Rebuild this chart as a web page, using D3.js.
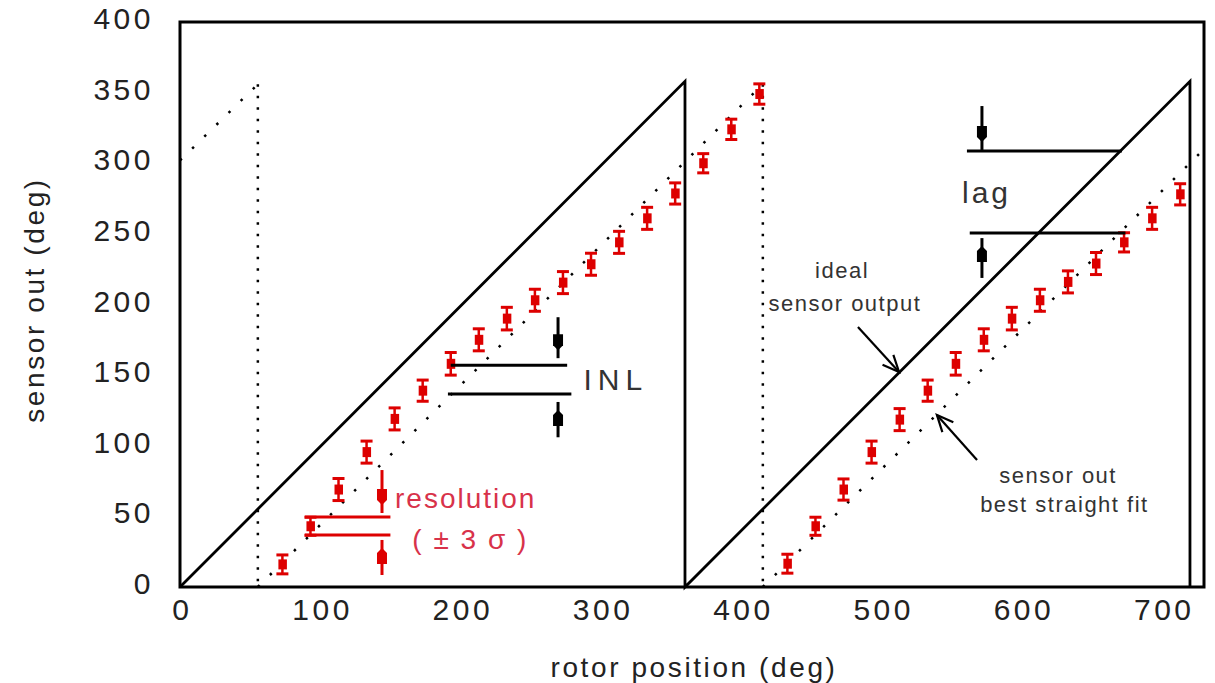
<!DOCTYPE html>
<html lang="en">
<head>
	<title>Sensor out vs rotor position</title>
	<meta charset="utf-8">
	<script src="https://d3js.org/d3.v7.min.js"></script>
	<style type="text/css">
		body {
			margin: 0;
			background: #fff;
			font-family: "Liberation Sans", Arial, sans-serif;
		}

		svg {
			display: block;
		}

		/* Axes */
		.tick text {
			font-family: "Liberation Sans", Arial, sans-serif;
			font-size: 30px;
			letter-spacing: 3.5px;
			fill: #222;
		}

		.tick line,
		path.domain {
			display: none;
		}

		.axis-title {
			font-size: 28px;
			letter-spacing: 2.6px;
			fill: #222;
		}

		/* Chart */
		.frame {
			fill: none;
			stroke: #000;
			stroke-width: 3;
		}

		.ideal {
			fill: none;
			stroke: #000;
			stroke-width: 2.8;
		}

		.fit {
			fill: none;
			stroke: #000;
			stroke-width: 2.5;
		}

		.err line {
			stroke: #dd0000;
		}

		.err rect {
			fill: #dd0000;
		}

		.note {
			font-size: 22px;
			letter-spacing: 1.5px;
			fill: #333;
		}

		.big {
			font-size: 30px;
			letter-spacing: 3px;
			fill: #333;
		}

		.wide {
			letter-spacing: 6px;
		}

		.red-text {
			font-size: 28px;
			letter-spacing: 2px;
			fill: #d8324a;
		}
	</style>
</head>

<body>
	<div id="vis"></div>

	<script type="text/javascript">

		/* Data */
		/* ==== */

		// measured sensor output (deg) against rotor position (deg)
		var rotorPos = [73, 93, 113, 133, 153, 173, 193, 213, 233, 253, 273, 293, 313, 333, 353, 373, 393, 413,
			433, 453, 473, 493, 513, 533, 553, 573, 593, 613, 633, 653, 673, 693, 713];
		var sensorOut = [16, 43, 69, 95.5, 119, 139, 158, 175, 190, 203, 215.5, 228.5, 244, 261, 278.6, 300, 324, 349,
			16.5, 43, 69, 95.5, 118.5, 139, 158, 175, 190, 203, 216, 229, 244, 261, 278];
		// +/- 3 sigma
		var sensorErr = [6.7, 6.4, 7.8, 7.8, 7.8, 7.5, 8, 7.8, 8, 7.8, 7.8, 7.8, 7.8, 7.8, 7.5, 6.8, 7.2, 7.2,
			6.7, 6.4, 7.5, 7.8, 7.8, 7.5, 8, 7.8, 8, 7.8, 7.8, 7.8, 6.8, 7.8, 7.5];

		// ideal sensor output (sawtooth)
		var idealRotor = [0, 360, 360, 720, 720];
		var idealOut = [0, 358, 0, 358, 0];

		// best straight fit, one list per sloped piece, plus the wraps
		var fitRotor = [[0, 55.5], [55.5, 415.5], [415.5, 730]];
		var fitOut = [[302, 356], [0, 356], [0, 310]];
		var fitWrapRotor = [55.5, 415.5];
		var fitWrapTop = 356;

		var xTicks = [0, 100, 200, 300, 400, 500, 600, 700];
		var yTicks = [0, 50, 100, 150, 200, 250, 300, 350, 400];


		/* Set up */
		/* ====== */

		var width = 1215, height = 683;
		var margin = { top: 22, left: 180, right: 11, bottom: 96 };

		var svg = d3.select('#vis')
			.append('svg')
			.attr('width', width)
			.attr('height', height);

		var xScale = d3.scaleLinear()
			.domain([0, 730])
			.range([margin.left, width - margin.right]);

		var yScale = d3.scaleLinear()
			.domain([0, 400])
			.range([height - margin.bottom, margin.top]);


		/* Axes */
		/* ==== */

		var xAxis = d3.axisBottom(xScale)
			.tickValues(xTicks)
			.tickSize(0)
			.tickPadding(12);

		var yAxis = d3.axisLeft(yScale)
			.tickValues(yTicks)
			.tickSize(0)
			.tickPadding(26);

		svg.append('g')
			.attr('class', 'x axis')
			.attr('transform', 'translate(0,' + yScale(0) + ')')
			.call(xAxis)
			.selectAll('text')
			.attr('dx', '0.06em');

		svg.append('g')
			.attr('class', 'y axis')
			.attr('transform', 'translate(' + xScale(0) + ',0)')
			.call(yAxis)
			.selectAll('text')
			.attr('dy', '0.22em');

		svg.append('text')
			.attr('class', 'axis-title')
			.attr('x', 694)
			.attr('y', 677)
			.attr('text-anchor', 'middle')
			.text('rotor position (deg)');

		svg.append('text')
			.attr('class', 'axis-title')
			.attr('transform', 'translate(44,300) rotate(-90)')
			.attr('text-anchor', 'middle')
			.text('sensor out (deg)');


		/* Lines */
		/* ===== */

		var line = d3.line()
			.x(function (d) { return xScale(d[0]); })
			.y(function (d) { return yScale(d[1]); });

		svg.append('path')
			.attr('class', 'ideal')
			.attr('d', line(idealRotor.map(function (r, i) { return [r, idealOut[i]]; })));

		// dotted fit: sloped pieces
		svg.selectAll('.fit-slope')
			.data(fitRotor)
			.enter()
			.append('path')
			.attr('class', 'fit fit-slope')
			.style('stroke-dasharray', '2.5 14.5')
			.attr('d', function (d, i) {
				return line([[d[0], fitOut[i][0]], [d[1], fitOut[i][1]]]);
			});

		// dotted fit: wrap-arounds
		svg.selectAll('.fit-wrap')
			.data(fitWrapRotor)
			.enter()
			.append('line')
			.attr('class', 'fit fit-wrap')
			.style('stroke-dasharray', '2.5 9')
			.attr('x1', function (d) { return xScale(d); })
			.attr('x2', function (d) { return xScale(d); })
			.attr('y1', yScale(fitWrapTop))
			.attr('y2', yScale(0));


		/* Measured points */
		/* =============== */

		var pts = svg.append('g').attr('class', 'err')
			.selectAll('g')
			.data(rotorPos)
			.enter()
			.append('g')
			.attr('transform', function (d) { return 'translate(' + xScale(d) + ',0)'; });

		pts.append('line')
			.attr('y1', function (d, i) { return yScale(sensorOut[i] + sensorErr[i]); })
			.attr('y2', function (d, i) { return yScale(sensorOut[i] - sensorErr[i]); })
			.style('stroke-width', 2.5);

		pts.selectAll('.cap')
			.data(function (d, i) { return [sensorOut[i] + sensorErr[i], sensorOut[i] - sensorErr[i]]; })
			.enter()
			.append('line')
			.attr('class', 'cap')
			.attr('x1', -6).attr('x2', 6)
			.attr('y1', function (d) { return yScale(d); })
			.attr('y2', function (d) { return yScale(d); })
			.style('stroke-width', 3);

		pts.append('rect')
			.attr('x', -4)
			.attr('width', 8.5)
			.attr('y', function (d, i) { return yScale(sensorOut[i]) - 5; })
			.attr('height', 10);


		/* Annotations */
		/* =========== */

		var notes = svg.append('g').attr('class', 'notes');

		// dimension lines [rotor from, rotor to, level, colour]
		var dimLines = [
			[193, 276, 157, '#000'], [191, 279, 136.6, '#000'],
			[89, 150, 49.6, '#dd0000'], [89, 150, 36.8, '#dd0000'],
			[561, 671.5, 308.7, '#000'], [563, 674, 250.6, '#000']
		];

		notes.selectAll('.dim')
			.data(dimLines)
			.enter()
			.append('line')
			.attr('class', 'dim')
			.attr('x1', function (d) { return xScale(d[0]); })
			.attr('x2', function (d) { return xScale(d[1]); })
			.attr('y1', function (d) { return yScale(d[2]); })
			.attr('y2', function (d) { return yScale(d[2]); })
			.style('stroke', function (d) { return d[3]; })
			.style('stroke-width', 3);

		// vertical arrows [rotor, from, to, colour]
		var dimArrows = [
			[269.5, 191, 162, '#000'], [269.5, 106, 131, '#000'],
			[144, 82.8, 52.4, '#dd0000'], [144, 8.5, 33.3, '#dd0000'],
			[571.7, 340.5, 309.4, '#000'], [571.7, 218.8, 247, '#000']
		];

		dimArrows.forEach(function (a) {
			var x = xScale(a[0]), y1 = yScale(a[1]), y2 = yScale(a[2]);
			var dir = y2 > y1 ? 1 : -1;
			var tip = y2 - dir * 8, base = tip - dir * 16;
			notes.append('line')
				.attr('x1', x).attr('x2', x)
				.attr('y1', y1).attr('y2', y2)
				.style('stroke', a[3])
				.style('stroke-width', 3);
			// blocky arrow head
			notes.append('path')
				.attr('d', 'M' + (x - 5) + ',' + base + 'L' + (x + 5) + ',' + base +
					'L' + (x + 5) + ',' + (tip - dir * 5) + 'L' + x + ',' + tip +
					'L' + (x - 5) + ',' + (tip - dir * 5) + 'Z')
				.style('fill', a[3]);
		});

		// leader arrows [rotor from, level from, rotor to, level to]
		var leaders = [
			[483.3, 184, 512.6, 152.2],
			[568.2, 89.9, 539.6, 121.8]
		];

		leaders.forEach(function (l) {
			var x1 = xScale(l[0]), y1 = yScale(l[1]), x2 = xScale(l[2]), y2 = yScale(l[3]);
			var ang = Math.atan2(y1 - y2, x1 - x2);
			var len = 18, spread = 0.42;
			notes.append('line')
				.attr('x1', x1).attr('y1', y1).attr('x2', x2).attr('y2', y2)
				.style('stroke', '#000').style('stroke-width', 2.2);
			notes.append('path')
				.attr('d', 'M' + (x2 + len * Math.cos(ang - spread)) + ',' + (y2 + len * Math.sin(ang - spread)) +
					'L' + x2 + ',' + y2 +
					'L' + (x2 + len * Math.cos(ang + spread)) + ',' + (y2 + len * Math.sin(ang + spread)))
				.style('fill', 'none').style('stroke', '#000').style('stroke-width', 2.2);
		});

		// labels [text, rotor, level, anchor, class]
		var labels = [
			['ideal', 472, 218.8, 'middle', 'note'],
			['sensor output', 474, 195.4, 'middle', 'note'],
			['sensor out', 626, 73.6, 'middle', 'note'],
			['best straight fit', 630.5, 53.1, 'middle', 'note'],
			['INL', 287.6, 139.5, 'start', 'big wide'],
			['lag', 557.5, 271.9, 'start', 'big'],
			['resolution', 153.3, 55.9, 'start', 'red-text'],
			['( \u00b1 3 \u03c3 )', 207, 26.9, 'middle', 'red-text']
		];

		notes.selectAll('.label')
			.data(labels)
			.enter()
			.append('text')
			.attr('class', function (d) { return 'label ' + d[4]; })
			.attr('x', function (d) { return xScale(d[1]); })
			.attr('y', function (d) { return yScale(d[2]); })
			.attr('text-anchor', function (d) { return d[3]; })
			.text(function (d) { return d[0]; });


		/* Frame */
		/* ===== */

		svg.append('rect')
			.attr('class', 'frame')
			.attr('x', xScale(0))
			.attr('y', yScale(400))
			.attr('width', xScale(730) - xScale(0))
			.attr('height', yScale(0) - yScale(400));

	</script>
</body>
</html>
